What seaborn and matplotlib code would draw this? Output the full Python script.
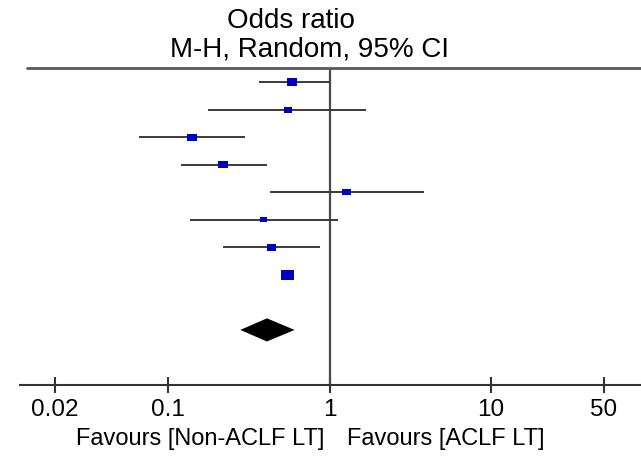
import numpy as np
import pandas as pd
import matplotlib
matplotlib.use("Agg")
import matplotlib.pyplot as plt
from matplotlib.ticker import NullLocator
import seaborn as sns

# ---- data ----
odds_ratio = [0.584, 0.552, 0.140, 0.218, 1.27, 0.388, 0.438, 0.550]
ci_lower = [0.365, 0.176, 0.066, 0.120, 0.427, 0.137, 0.220, 0.505]
ci_upper = [1.00, 1.69, 0.299, 0.408, 3.83, 1.12, 0.871, 0.600]
weights = [15.5, 8.5, 12.7, 12.8, 10.6, 7.4, 11.2, 21.3]
pooled_lower, pooled_est, pooled_upper = 0.280, 0.409, 0.607
tick_values = [0.02, 0.1, 1, 10, 50]
tick_labels = ["0.02", "0.1", "1", "10", "50"]
title_lines = ["Odds ratio", "M-H, Random, 95% CI"]
favours_left = "Favours [Non-ACLF LT]"
favours_right = "Favours [ACLF LT]"

sns.set_theme(style="white")
plt.rcParams["font.family"] = ["Liberation Sans", "DejaVu Sans"]
plt.rcParams["text.color"] = "black"

df = pd.DataFrame({
    "row": np.arange(1, len(odds_ratio) + 1),
    "or": odds_ratio,
    "lo": ci_lower,
    "hi": ci_upper,
    "w": weights,
})
pooled_row = len(odds_ratio) + 2

W, H = 641, 458
fig = plt.figure(figsize=(W / 100, H / 100), dpi=100)
fig.patch.set_facecolor("white")
ax = fig.add_axes([20 / W, 1 - 385 / H, 1 - 20 / W, (385 - 68.3) / H])
ax.set_facecolor("white")
ax.set_xscale("log")
ax.set_xlim(10 ** -1.917, 10 ** 1.928)
ax.set_ylim(pooled_row + 2, 0.5)

# confidence intervals
ax.hlines(df["row"], df["lo"], df["hi"], color="#3a3a3a", lw=1.4, zorder=2)
# line of no effect
ax.axvline(1, color="#4a4a4a", lw=1.6, zorder=1)
# header rule
ax.axhline(0.5, xmin=0.012, xmax=1, color="#5a5a5a", lw=2.0, zorder=1, clip_on=False)

rect = [(-1.35, -1), (1.35, -1), (1.35, 1), (-1.35, 1)]
sns.scatterplot(data=df, x="or", y="row", size="w", sizes=(28, 82),
                marker=rect, color="#0000c4", linewidth=0, legend=False,
                ax=ax, zorder=3)

# pooled diamond
hh = 0.42
ax.fill([pooled_lower, pooled_est, pooled_upper, pooled_est],
        [pooled_row, pooled_row - hh, pooled_row, pooled_row + hh],
        color="black", lw=0, zorder=3)

for s in ["left", "top", "right"]:
    ax.spines[s].set_visible(False)
ax.spines["bottom"].set_color("#333333")
ax.spines["bottom"].set_linewidth(1.5)
ax.set_yticks([])
ax.set_xticks(tick_values)
ax.set_xticklabels(tick_labels)
ax.xaxis.set_minor_locator(NullLocator())
ax.tick_params(axis="x", which="major", bottom=True, direction="inout",
               length=12, width=1.5, color="#333333", labelcolor="black",
               labelsize=17.5, pad=4)
ax.set_xlabel("")
ax.set_ylabel("")

fig.text(291 / W, 1 - 28 / H, title_lines[0], ha="center", va="baseline", fontsize=20)
fig.text(309 / W, 1 - 57 / H, title_lines[1], ha="center", va="baseline", fontsize=20)
fig.text(324 / W, 1 - 445 / H, favours_left, ha="right", va="baseline", fontsize=17)
fig.text(346.7 / W, 1 - 445 / H, favours_right, ha="left", va="baseline", fontsize=17)

fig.savefig("out.png", dpi=100, facecolor="white")
